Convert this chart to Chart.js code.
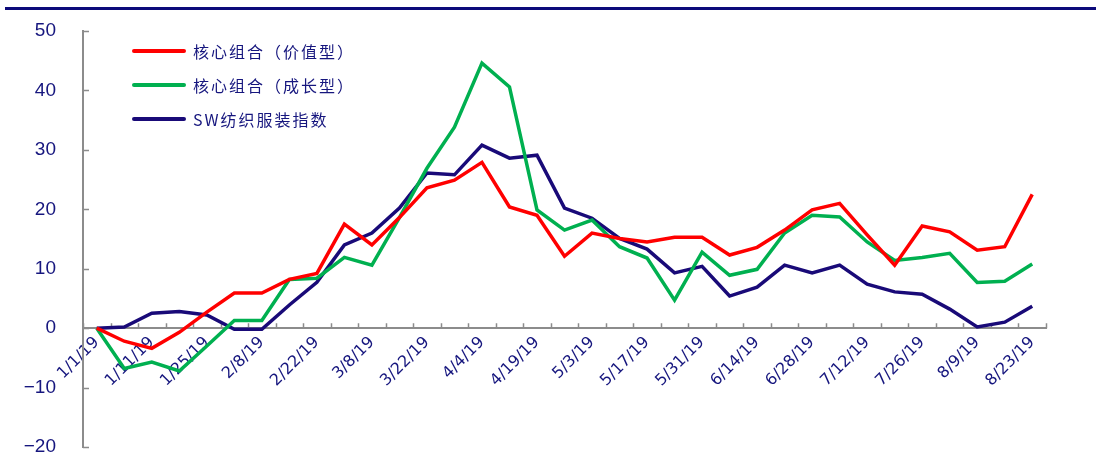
<!DOCTYPE html>
<html>
<head>
<meta charset="utf-8">
<script src="https://cdn.jsdelivr.net/npm/chart.js@4/dist/chart.umd.min.js"></script>
<style>
  html, body { margin: 0; padding: 0; background: #fff; }
  #wrap { width: 1096px; height: 466px; position: relative; }
</style>
</head>
<body>
<div id="wrap"><canvas id="c" width="1096" height="466"></canvas></div>
<script>
// Weekly dates (2019)
const dates = ['1/1/19','1/4/19','1/11/19','1/18/19','1/25/19','2/1/19','2/8/19','2/15/19','2/22/19','3/1/19',
  '3/8/19','3/15/19','3/22/19','3/29/19','4/4/19','4/12/19','4/19/19','4/26/19','5/3/19','5/10/19',
  '5/17/19','5/24/19','5/31/19','6/6/19','6/14/19','6/21/19','6/28/19','7/5/19','7/12/19','7/19/19',
  '7/26/19','8/2/19','8/9/19','8/16/19','8/23/19'];

// Cumulative return, %
const valuePortfolio = [0,-2.2,-3.4,-0.7,2.7,5.9,5.9,8.2,9.2,17.5,
  14.0,18.6,23.6,24.9,27.9,20.4,19.0,12.1,16.0,15.1,
  14.5,15.3,15.3,12.3,13.6,16.5,19.9,21.0,15.7,10.6,
  17.2,16.2,13.1,13.7,22.5];
const growthPortfolio = [0,-6.8,-5.7,-7.2,-3.0,1.3,1.3,8.2,8.4,11.9,
  10.6,18.6,26.9,33.8,44.6,40.6,19.9,16.5,18.2,13.7,
  11.8,4.7,12.8,8.9,9.9,16.0,19.0,18.7,14.5,11.4,
  11.9,12.6,7.7,7.9,10.8];
const textileIndex = [0,0.2,2.5,2.8,2.2,-0.2,-0.2,3.9,7.7,14.0,
  16.0,20.2,26.1,25.8,30.8,28.6,29.1,20.2,18.5,15.1,
  13.3,9.3,10.4,5.4,6.9,10.6,9.3,10.6,7.4,6.1,
  5.7,3.2,0.2,1.0,3.7];

const seriesNames = ['核心组合（价值型）','核心组合（成长型）','SW纺织服装指数'];
const seriesColors = ['#ff0000','#00b050','#190a78'];
const yTicks = [-20,-10,0,10,20,30,40,50];

const NAVY = '#16167e';
const AXIS = '#8c8c8c';

// Header rule, inward tick marks and inset legend
const decor = {
  id: 'decor',
  beforeDraw(chart) {
    const ctx = chart.ctx;
    ctx.save();
    ctx.fillStyle = '#0c0a7a';
    ctx.fillRect(5, 7, 1091, 3);
    ctx.restore();
  },
  beforeDatasetsDraw(chart) {
    const ctx = chart.ctx;
    const xs = chart.scales.x, ys = chart.scales.y;
    const y0 = ys.getPixelForValue(0);
    ctx.save();
    ctx.strokeStyle = AXIS;
    ctx.lineWidth = 1.5;
    ctx.beginPath();
    for (let i = 0; i <= dates.length; i++) {
      const x = Math.round(xs.getPixelForValue(i - 0.5)) + 0.5;
      ctx.moveTo(x, y0);
      ctx.lineTo(x, y0 - 5);
    }
    for (const v of yTicks) {
      const y = Math.round(ys.getPixelForValue(v)) + 0.5;
      ctx.moveTo(ys.right, y);
      ctx.lineTo(ys.right + 6, y);
    }
    ctx.stroke();
    ctx.restore();
  },
  afterDraw(chart) {
    const ctx = chart.ctx;
    ctx.save();
    ctx.font = '16px "Noto Sans CJK SC"';
    ctx.textBaseline = 'middle';
    ctx.letterSpacing = '2px';
    seriesNames.forEach((name, i) => {
      const y = 51 + i * 34;
      ctx.strokeStyle = seriesColors[i];
      ctx.lineWidth = 4;
      ctx.lineCap = 'round';
      ctx.beginPath();
      ctx.moveTo(134, y);
      ctx.lineTo(184, y);
      ctx.stroke();
      ctx.fillStyle = NAVY;
      ctx.fillText(name, 193, y + 1);
    });
    ctx.restore();
  }
};

const mk = (label, data, color) => ({
  label, data,
  borderColor: color,
  backgroundColor: color,
  borderWidth: 3.5,
  pointRadius: 0,
  tension: 0,
  fill: false
});

new Chart(document.getElementById('c'), {
  type: 'line',
  data: {
    labels: dates,
    datasets: [
      mk(seriesNames[0], valuePortfolio, seriesColors[0]),
      mk(seriesNames[1], growthPortfolio, seriesColors[1]),
      mk(seriesNames[2], textileIndex, seriesColors[2])
    ]
  },
  options: {
    responsive: false,
    animation: false,
    devicePixelRatio: 1,
    layout: { padding: { top: 31, right: 50, bottom: 19, left: 0 } },
    plugins: { legend: { display: false }, tooltip: { enabled: false } },
    scales: {
      x: {
        type: 'category',
        position: { y: 0 },
        offset: true,
        grid: { display: false, drawTicks: false, offset: true },
        border: { display: true, color: AXIS, width: 2 },
        ticks: {
          autoSkip: false,
          minRotation: 45,
          maxRotation: 45,
          padding: 5,
          color: NAVY,
          font: { family: 'DejaVu Sans', size: 16 },
          callback(value, index) { return index % 2 === 0 ? dates[index] : ''; }
        }
      },
      y: {
        min: -20,
        max: 50,
        afterFit(scale) {
          scale.width = 83;
          scale.paddingTop = 0;
          scale.paddingBottom = 0;
        },
        afterBuildTicks(scale) { scale.ticks = yTicks.map(v => ({ value: v })); },
        grid: { display: false, drawTicks: false },
        border: { display: true, color: AXIS, width: 2 },
        ticks: {
          padding: 27,
          color: NAVY,
          font: { family: 'Liberation Sans', size: 19 },
          callback(v) { return v < 0 ? '\u2212' + Math.abs(v) : String(v); }
        }
      }
    }
  },
  plugins: [decor]
});
</script>
</body>
</html>
